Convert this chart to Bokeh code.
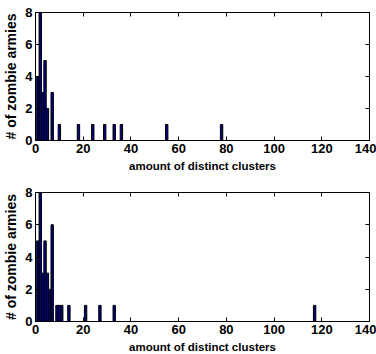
from bokeh.plotting import figure
from bokeh.layouts import column
from bokeh.models import LinearAxis, FixedTicker, Range1d
from bokeh.embed import file_html
from bokeh.resources import INLINE

# Data
top_x = [1, 2, 3, 4, 5, 7, 10, 18, 24, 29, 33, 36, 55, 78]
top_counts = [4, 8, 3, 5, 2, 3, 1, 1, 1, 1, 1, 1, 1, 1]
bottom_x = [1, 2, 3, 4, 5, 6, 7, 9, 10, 11, 14, 21, 27, 33, 117]
bottom_counts = [5, 8, 3, 5, 3, 2, 6, 1, 1, 1, 1, 1, 1, 1, 1]
x_ticks = [0, 20, 40, 60, 80, 100, 120, 140]
y_ticks = [0, 2, 4, 6, 8]
x_label = "amount of distinct clusters"
y_label = "# of zombie armies"

FONT = "Liberation Sans"


def style_axis(ax, labels=True):
    ax.major_tick_in = 4
    ax.major_tick_out = 0
    ax.minor_tick_line_color = None
    ax.axis_line_color = "black"
    ax.major_tick_line_color = "black"
    if labels:
        ax.major_label_text_font = FONT
        ax.major_label_text_font_style = "bold"
        ax.major_label_text_font_size = "13px"
        ax.major_label_text_color = "black"
        ax.major_label_standoff = 3
    else:
        ax.major_label_overrides = {t: "" for t in ax.ticker.ticks}
        ax.major_label_standoff = 0


def make_plot(xs, counts, top_border, frame_h, bottom_border):
    p = figure(width=376, height=top_border + frame_h + bottom_border,
               frame_width=334, frame_height=frame_h,
               min_border_left=35, min_border_right=7,
               min_border_top=top_border, min_border_bottom=bottom_border,
               x_range=Range1d(0, 140), y_range=Range1d(0, 8),
               output_backend="svg", toolbar_location=None)
    p.xgrid.visible = False
    p.ygrid.visible = False
    p.outline_line_color = "black"
    p.background_fill_color = "white"
    p.border_fill_color = "white"
    p.vbar(x=xs, top=counts, width=1.0, bottom=0,
           fill_color="#00007f", line_color="black", line_width=1)

    p.xaxis.ticker = FixedTicker(ticks=x_ticks)
    p.yaxis.ticker = FixedTicker(ticks=y_ticks)
    style_axis(p.xaxis[0])
    style_axis(p.yaxis[0])
    p.xaxis.axis_label = x_label
    p.yaxis.axis_label = y_label
    for ax in (p.xaxis[0], p.yaxis[0]):
        ax.axis_label_text_font = FONT
        ax.axis_label_text_font_style = "bold"
        ax.axis_label_text_color = "black"
    p.xaxis.axis_label_text_font_size = "11.5px"
    p.yaxis.axis_label_text_font_size = "14px"
    p.xaxis.axis_label_standoff = 4
    p.yaxis.axis_label_standoff = 3

    ax_top = LinearAxis(ticker=FixedTicker(ticks=x_ticks))
    style_axis(ax_top, labels=False)
    p.add_layout(ax_top, "above")
    ax_right = LinearAxis(ticker=FixedTicker(ticks=y_ticks))
    style_axis(ax_right, labels=False)
    p.add_layout(ax_right, "right")
    return p


p1 = make_plot(top_x, top_counts, 12, 128, 37)
p2 = make_plot(bottom_x, bottom_counts, 15, 129, 33)
layout = column(p1, p2, spacing=0)

open("out.html", "w").write(file_html(layout, INLINE))
